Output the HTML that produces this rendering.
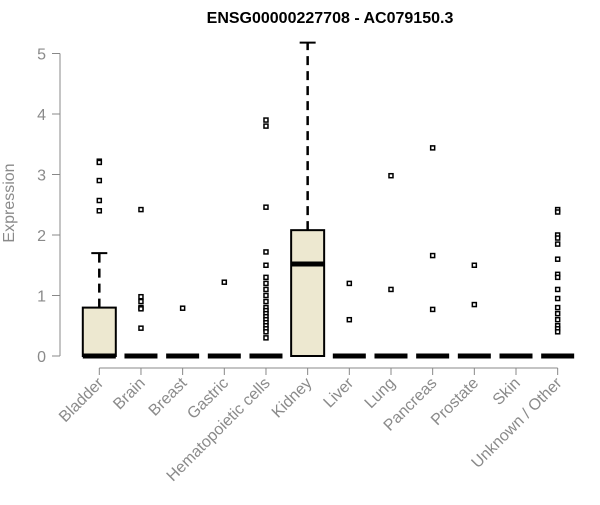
<!DOCTYPE html>
<html><head><meta charset="utf-8"><style>
body{margin:0;background:#fff;}
svg text{font-family:"Liberation Sans",Arial,sans-serif;}
</style></head><body>
<svg id="chart" width="600" height="500">
<text x="330" y="23" text-anchor="middle" font-size="16" font-weight="bold">ENSG00000227708 - AC079150.3</text>
<text transform="translate(14,203) rotate(-90)" text-anchor="middle" font-size="16" fill="#8a8a8a">Expression</text>
<g id="axes"></g><g id="marks"></g>
</svg>
<script>
const categories=["Bladder","Brain","Breast","Gastric","Hematopoietic cells","Kidney","Liver","Lung","Pancreas","Prostate","Skin","Unknown / Other"];
const q1=[0,0,0,0,0,0,0,0,0,0,0,0];
const medians=[0,0,0,0,0,1.52,0,0,0,0,0,0];
const q3=[0.8,0,0,0,0,2.08,0,0,0,0,0,0];
const whiskerLow=[0,0,0,0,0,0,0,0,0,0,0,0];
const whiskerHigh=[1.7,0,0,0,0,5.18,0,0,0,0,0,0];
const outliers=[[3.22,3.2,2.9,2.57,2.4],[2.42,0.98,0.9,0.8,0.78,0.46],[0.79],[1.22],
[3.9,3.8,2.46,1.72,1.5,1.3,1.2,1.1,1.0,0.9,0.8,0.75,0.7,0.65,0.6,0.55,0.5,0.45,0.4,0.3],
[],[1.2,0.6],[2.98,1.1],[3.44,1.66,0.77],[1.5,0.85],[],
[2.42,2.38,2.0,1.95,1.85,1.6,1.35,1.3,1.1,0.95,0.8,0.7,0.6,0.5,0.45,0.4]];
const yTicks=[0,1,2,3,4,5];
const NS="http://www.w3.org/2000/svg";
const xS=i=>99.3+i*41.67, yS=v=>356-v*60.5;
const axes=document.getElementById('axes'), marks=document.getElementById('marks');
function mk(tag,attrs,parent){const e=document.createElementNS(NS,tag);for(const k in attrs)e.setAttribute(k,attrs[k]);parent.appendChild(e);return e;}
let e=mk('line',{x1:60,x2:60,y1:yS(0),y2:yS(5),stroke:'#888'},axes);


yTicks.forEach(t=>{
 let l=mk('line',{x1:52,x2:60,y1:yS(t),y2:yS(t),stroke:'#888'},axes);
 
 
 let tx=mk('text',{x:46,y:yS(t)+6,'text-anchor':'end','font-size':16,fill:'#8a8a8a'},axes);
 tx.textContent=t;
 
 
});
e=mk('line',{x1:xS(0),x2:xS(categories.length-1),y1:368,y2:368,stroke:'#888'},axes);


categories.forEach((c,i)=>{
 const x=xS(i);
 let l=mk('line',{x1:x,x2:x,y1:368,y2:375,stroke:'#888'},axes);
 
 
 let tx=mk('text',{x:x+5,y:384,'text-anchor':'end','font-size':16,fill:'#8a8a8a',transform:`rotate(-45 ${x+5} 384)`},axes);
 tx.textContent=c;
 
 
 const g=mk('g',{},marks);
 
 
 const hw=16.5;
 if(whiskerHigh[i]>q3[i]){
  mk('line',{x1:x,x2:x,y1:yS(q3[i]),y2:yS(whiskerHigh[i]),stroke:'#000','stroke-width':2.5,'stroke-dasharray':'9,6'},g);
  mk('line',{x1:x-8,x2:x+8,y1:yS(whiskerHigh[i]),y2:yS(whiskerHigh[i]),stroke:'#000','stroke-width':2},g);
 }
 if(q3[i]>q1[i]) mk('rect',{x:x-hw,y:yS(q3[i]),width:2*hw,height:yS(q1[i])-yS(q3[i]),fill:'#ede8d0',stroke:'#000','stroke-width':2},g);
 mk('line',{x1:x-hw,x2:x+hw,y1:yS(medians[i]),y2:yS(medians[i]),stroke:'#000','stroke-width':5},g);
 outliers[i].forEach(v=>{
  let p=mk('rect',{x:x-2,y:yS(v)-2,width:4,height:4,fill:'#fff',stroke:'#000','stroke-width':1.5},g);
  
  
 });
});
</script>
</body></html>
